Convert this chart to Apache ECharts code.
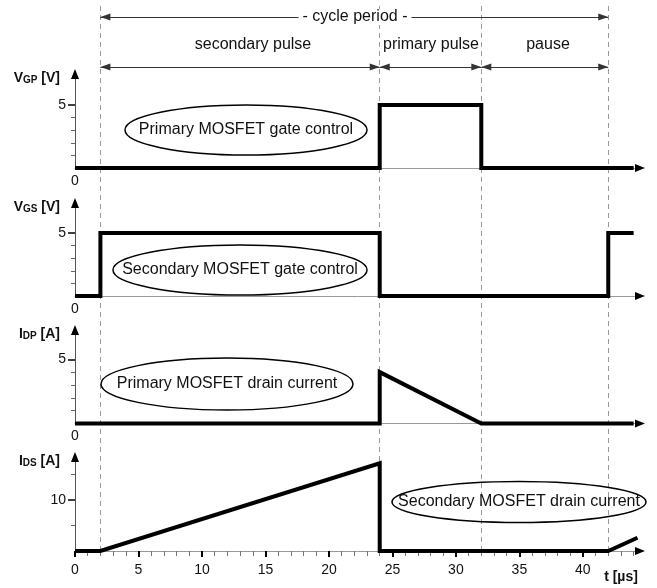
<!DOCTYPE html>
<html><head><meta charset="utf-8">
<script src="https://cdn.jsdelivr.net/npm/echarts@6/dist/echarts.min.js"></script>
<style>html,body{margin:0;padding:0;background:#fff}#c{width:657px;height:588px}</style>
</head><body><div id="c"></div>
<script>
// ---------- data ----------
const T_MAX = 44.5;
const BOUNDARIES = [2, 24, 32, 42];
const CYCLE_SPAN = [2, 42];
const PHASE_SPANS = [[2, 24], [24, 32], [32, 42]];
const PHASE_NAMES = ['secondary pulse', 'primary pulse', 'pause'];
const CYCLE_NAME = '- cycle period -';
const X_MAJOR_TICKS = [0, 5, 10, 15, 20, 25, 30, 35, 40];
const X_MINOR_TICKS = [1,2,3,4,6,7,8,9,11,12,13,14,16,17,18,19,21,22,23,24,26,27,28,29,31,32,33,34,36,37,38,39,41,42,43,44];

const VGP_T = [0, 24, 24, 32, 32, 44];
const VGP_V = [0, 0, 5, 5, 0, 0];
const VGS_T = [0, 2, 2, 24, 24, 42, 42, 44];
const VGS_V = [0, 0, 5, 5, 0, 0, 5, 5];
const IDP_T = [0, 24, 24, 32, 44];
const IDP_V = [0, 0, 4.0, 0, 0];
const IDS_T = [0, 2, 24, 24, 42, 44.3];
const IDS_V = [0, 0, 17.2, 0, 0, 2.6];

const V_MINOR_TICKS = [1, 2, 3, 4];
const V_MAJOR_TICKS = [5];
const IDS_MINOR_TICKS = [5, 15];
const IDS_MAJOR_TICKS = [10];

const PANEL_NAMES = [['V', 'GP', 'V'], ['V', 'GS', 'V'], ['I', 'DP', 'A'], ['I', 'DS', 'A']];
const ELLIPSE_TEXTS = ['Primary MOSFET gate control', 'Secondary MOSFET gate control',
                       'Primary MOSFET drain current', 'Secondary MOSFET drain current'];

// ---------- layout ----------
const FONT = '"Liberation Sans", Arial, Helvetica, sans-serif';
const LEFT = 75, WIDTH = 565;
const panels = [
  {t: VGP_T, v: VGP_V, minor: V_MINOR_TICKS, major: V_MAJOR_TICKS, top: 74,  height: 94,   max: 7.46},
  {t: VGS_T, v: VGS_V, minor: V_MINOR_TICKS, major: V_MAJOR_TICKS, top: 203, height: 93,   max: 7.38},
  {t: IDP_T, v: IDP_V, minor: V_MINOR_TICKS, major: V_MAJOR_TICKS, top: 330, height: 93.5, max: 7.28},
  {t: IDS_T, v: IDS_V, minor: IDS_MINOR_TICKS, major: IDS_MAJOR_TICKS, top: 457, height: 94, max: 18.43}
];
const ellipses = [
  {cx: 246, cy: 130, rx: 121, ry: 25},
  {cx: 240, cy: 270, rx: 127, ry: 25},
  {cx: 227, cy: 384, rx: 126, ry: 26},
  {cx: 519, cy: 502, rx: 127, ry: 20.5}
];

const grid = [{left: LEFT, width: WIDTH, top: 6, height: 545}];
const xAxis = [{gridIndex: 0, type: 'value', min: 0, max: T_MAX, show: false}];
const yAxis = [{gridIndex: 0, type: 'value', min: 0, max: 545, inverse: true, show: false}];
const series = [];

panels.forEach((p, i) => {
  const g = i + 1;
  const last = i === 3;
  grid.push({left: LEFT, width: WIDTH, top: p.top, height: p.height});
  const xa = xAxis.length;
  xAxis.push({
    gridIndex: g, type: 'value', min: 0, max: T_MAX, position: 'bottom',
    axisLine: {show: true, onZero: false, lineStyle: {color: '#999', width: 1}},
    axisTick: last ? {show: true, customValues: X_MINOR_TICKS, length: 5, lineStyle: {color: '#777', width: 1}} : {show: false},
    axisLabel: {show: true, customValues: last ? X_MAJOR_TICKS : [0], margin: last ? 12 : 6,
                fontSize: 14, color: '#111', fontFamily: FONT},
    splitLine: {show: false}
  });
  xAxis.push({
    gridIndex: g, type: 'value', min: 0, max: T_MAX, position: 'bottom',
    axisLine: {show: true, onZero: false, symbol: ['none', 'triangle'], symbolSize: [8, 10],
               lineStyle: {color: '#000', width: 0}},
    axisTick: last ? {show: true, customValues: X_MAJOR_TICKS, length: 6, lineStyle: {color: '#000', width: 2}} : {show: false},
    axisLabel: {show: false},
    splitLine: {show: false}
  });
  const ya = yAxis.length;
  yAxis.push({
    gridIndex: g, type: 'value', min: 0, max: p.max, position: 'left',
    axisLine: {show: true, onZero: false, lineStyle: {color: '#555', width: 1}},
    axisTick: {show: true, customValues: p.minor, length: 4, lineStyle: {color: '#666', width: 1}},
    axisLabel: {show: false},
    splitLine: {show: false}
  });
  const n = PANEL_NAMES[i];
  yAxis.push({
    gridIndex: g, type: 'value', min: 0, max: p.max, position: 'left',
    axisLine: {show: true, onZero: false, symbol: ['none', 'triangle'], symbolSize: [8, 10],
               lineStyle: {color: '#000', width: 0}},
    axisTick: {show: true, customValues: p.major, length: 7, lineStyle: {color: '#000', width: 1.5}},
    axisLabel: {show: true, customValues: p.major, margin: 9, fontSize: 14, color: '#111', fontFamily: FONT},
    splitLine: {show: false},
    name: '{b|' + n[0] + '}{s|' + n[1] + '}{b| [' + n[2] + ']}',
    nameLocation: 'end', nameGap: -4,
    nameTextStyle: {
      align: 'right', verticalAlign: 'middle', padding: [0, 15, 0, 0],
      rich: {
        b: {fontSize: 14, fontWeight: 'bold', color: '#111', fontFamily: FONT, verticalAlign: 'bottom'},
        s: {fontSize: 10, fontWeight: 'bold', color: '#111', fontFamily: FONT, verticalAlign: 'bottom'}
      }
    }
  });
  series.push({
    type: 'line', xAxisIndex: xa, yAxisIndex: ya,
    data: p.t.map((t, k) => [t, p.v[k]]),
    showSymbol: false, symbol: 'none', clip: false, silent: true, z: 5,
    lineStyle: {color: '#000', width: 4, join: 'miter', cap: 'butt'}
  });
});

// dashed phase boundaries
series.push({
  type: 'line', xAxisIndex: 0, yAxisIndex: 0, data: [], silent: true,
  markLine: {
    silent: true, symbol: ['none', 'none'], label: {show: false},
    lineStyle: {color: '#999', type: [5, 4], width: 1},
    data: BOUNDARIES.map(b => ({xAxis: b}))
  }
});
// arrows
const ROW1 = 11, ROW2 = 61;
series.push({
  type: 'line', xAxisIndex: 0, yAxisIndex: 0, data: [], silent: true,
  markLine: {
    silent: true, symbol: ['triangle', 'triangle'], symbolSize: [7, 10],
    symbolOffset: [[0, 5], [0, 5]],
    label: {show: false},
    lineStyle: {color: '#333', type: 'solid', width: 1},
    data: [[{coord: [CYCLE_SPAN[0], ROW1]}, {coord: [CYCLE_SPAN[1], ROW1]}]]
      .concat(PHASE_SPANS.map(s => [{coord: [s[0], ROW2]}, {coord: [s[1], ROW2]}]))
  }
});

const graphic = [];
graphic.push({type: 'text', x: 355, y: 17, z: 100,
  style: {text: CYCLE_NAME, font: '16px ' + FONT, fill: '#111', align: 'center', verticalAlign: 'middle',
          backgroundColor: '#fff', padding: [0, 4]}});
const phaseX = [253, 431, 548];
PHASE_NAMES.forEach((nm, i) => {
  graphic.push({type: 'text', x: phaseX[i], y: 45, z: 100,
    style: {text: nm, font: '16px ' + FONT, fill: '#111', align: 'center', verticalAlign: 'middle'}});
});
ellipses.forEach((e, i) => {
  graphic.push({type: 'ellipse', z: 100, shape: {cx: e.cx, cy: e.cy, rx: e.rx, ry: e.ry},
    style: {fill: 'none', stroke: '#000', lineWidth: 1.5}});
  graphic.push({type: 'text', x: e.cx, y: e.cy, z: 101,
    style: {text: ELLIPSE_TEXTS[i], font: '16px ' + FONT, fill: '#111', align: 'center', verticalAlign: 'middle'}});
});
graphic.push({type: 'text', x: 621, y: 577, z: 100,
  style: {text: 't [µs]', font: 'bold 14px ' + FONT, fill: '#111', align: 'center', verticalAlign: 'middle'}});

const chart = echarts.init(document.getElementById('c'), null, {renderer: 'canvas'});
chart.setOption({
  animation: false,
  backgroundColor: '#fff',
  textStyle: {fontFamily: FONT},
  grid, xAxis, yAxis, series, graphic
});
</script></body></html>
